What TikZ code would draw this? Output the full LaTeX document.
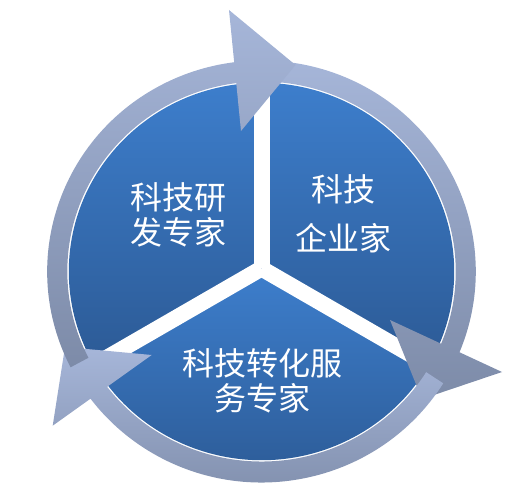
\documentclass[tikz,border=0pt]{standalone}
\usepackage{fontspec}
\newfontfamily\cjkfont{Noto Sans CJK SC}
\definecolor{sectortop}{HTML}{3D7ECC}
\definecolor{sectorbottom}{HTML}{2C5A95}
\definecolor{ringtop}{HTML}{A6B6D9}
\definecolor{ringbottom}{HTML}{7D8BA8}

\begin{document}
\begin{tikzpicture}[x=0.5pt,y=0.5pt,
  sector/.style={top color=sectortop,bottom color=sectorbottom},
  ring/.style={top color=ringtop,bottom color=ringbottom},
  gapline/.style={draw=white,line width=8pt},
  sectortext/.style={text=white,align=center,font=\cjkfont\fontsize{16}{17.5}\selectfont}]
\useasboundingbox (-261.5,-226.5) rectangle (263.5,271.5);

% three sectors
\shade[sector] (0,0) -- (90:192.7 and 188.7) arc[start angle=90,end angle=210,x radius=192.7,y radius=188.7] -- cycle;
\shade[sector] (0,0) -- (-30:192.7 and 188.7) arc[start angle=-30,end angle=90,x radius=192.7,y radius=188.7] -- cycle;
\shade[sector] (0,0) -- (210:192.7 and 188.7) arc[start angle=210,end angle=330,x radius=192.7,y radius=188.7] -- cycle;
\coordinate (mid) at (0,3);
\draw[gapline] (mid) -- ++(90:220);
\draw[gapline] (mid) -- ++(210:220);
\draw[gapline] (mid) -- ++(330:220);

% circular arrow, three parts
\shade[ring] (92:214.3 and 211) arc[start angle=92,end angle=-26,x radius=214.3,y radius=211] -- (-26:194.2 and 190) arc[start angle=-26,end angle=92,x radius=194.2,y radius=190] -- cycle
  (128.5,-48.5) -- (240.5,-100.5) -- (160.5,-127.5) -- cycle;
\shade[ring] (-32:214.3 and 211) arc[start angle=-32,end angle=-148,x radius=214.3,y radius=211] -- (-148:194.2 and 190) arc[start angle=-148,end angle=-32,x radius=194.2,y radius=190] -- cycle
  (-196.5,-75.5) -- (-109.8,-83.5) -- (-208.8,-154.2) -- cycle;
\shade[ring] (207:214.3 and 211) arc[start angle=207,end angle=90,x radius=214.3,y radius=211] -- (90:194.2 and 190) arc[start angle=90,end angle=207,x radius=194.2,y radius=190] -- cycle
  (-32.5,261.5) -- (34,206.5) -- (-20.5,140.5) -- cycle;

\node[sectortext] (research) at (-83,57) {科技研\\发专家};
\node[sectortext] (enterprise) at (81.5,58) {科技\\[7pt]企业家};
\node[sectortext] (transfer) at (1.5,-109) {科技转化服\\务专家};
\end{tikzpicture}
\end{document}
